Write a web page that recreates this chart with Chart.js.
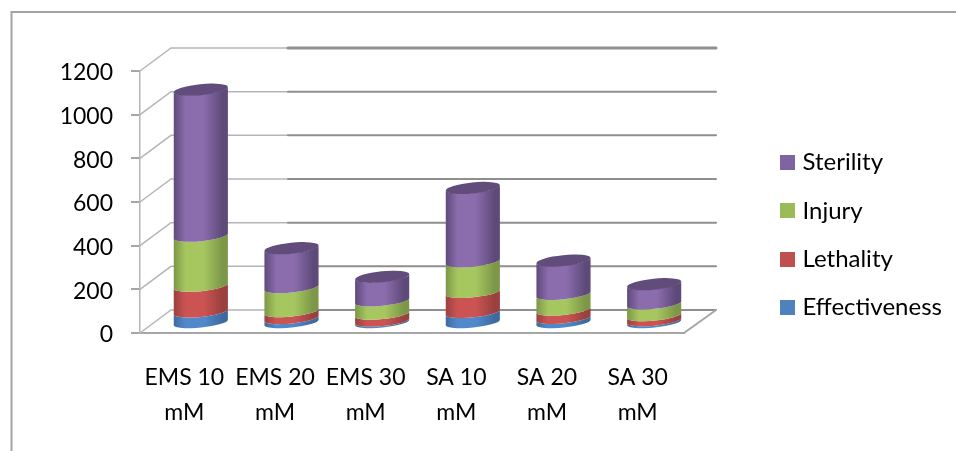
<!DOCTYPE html>
<html>
<head>
<meta charset="utf-8">
<title>Mutagen effects</title>
<script src="https://cdn.jsdelivr.net/npm/chart.js@4/dist/chart.umd.js"></script>
<style>
  html, body { margin: 0; padding: 0; background: #fff; }
  canvas { display: block; }
</style>
</head>
<body>
<canvas id="chart" width="956" height="451"></canvas>
<script>
const categories = [['EMS 10', 'mM'], ['EMS 20', 'mM'], ['EMS 30', 'mM'], ['SA 10', 'mM'], ['SA 20', 'mM'], ['SA 30', 'mM']];
const effectiveness = [53, 23, 11, 51, 24, 13];
const lethality = [118, 32, 32, 92, 38, 23];
const injury = [229, 110, 61, 140, 72, 54];
const sterility = [671, 180, 110, 338, 154, 90];

const seriesColors = ['#4F81BD', '#C0504D', '#9BBB59', '#8064A2'];
// Horizontal shading of each cylinder: edge, highlight, edge.
const sideShades = [
  ['#3F6A9E', '#5089CB', '#3F6A9E'],
  ['#9A403E', '#CB5453', '#9A403E'],
  ['#7C9747', '#A6C660', '#7C9747'],
  ['#5E4A79', '#8B6CAD', '#5E4A79']
];
const capColor = '#624C7C';

// Perspective offsets from the front plane of the box.
const DEPTH_X = 31, DEPTH_Y = -23;
const BAR_X = 15.5, BAR_Y = -9.5;
const TILT = -0.1, CAP_RY = 5;

function legendSwatch(color) {
  const c = document.createElement('canvas');
  c.width = 15; c.height = 15;
  const g = c.getContext('2d');
  g.fillStyle = color;
  g.fillRect(0, 0, 15, 15);
  return c;
}

const boxPlugin = {
  id: 'box3d',
  beforeDraw(chart) {
    // Outer chart border, open at the bottom and right.
    const { ctx } = chart;
    ctx.save();
    ctx.strokeStyle = '#a3a3a3';
    ctx.lineWidth = 2;
    ctx.beginPath();
    ctx.moveTo(11.5, 451);
    ctx.lineTo(11.5, 12);
    ctx.lineTo(956, 12);
    ctx.stroke();
    ctx.restore();
  },
  afterLayout(chart) {
    const lg = chart.legend;
    const w = lg.right - lg.left, h = lg.bottom - lg.top;
    lg.left = 784.5 - lg.options.labels.padding;
    lg.right = lg.left + w;
    lg.top = 150.5 - lg.options.labels.padding;
    lg.bottom = lg.top + h;
  },
  beforeDatasetsDraw(chart) {
    const { ctx, chartArea, scales } = chart;
    const yScale = scales.y;
    const left = chartArea.left, right = chartArea.right;
    ctx.save();
    ctx.lineCap = 'round';

    // Side wall and back wall grid lines for every tick.
    yScale.ticks.forEach((tick) => {
      const y = yScale.getPixelForValue(tick.value);
      const by = y + DEPTH_Y;
      ctx.strokeStyle = '#b5b5b5';
      ctx.lineWidth = 1.5;
      ctx.beginPath();
      ctx.moveTo(left, y);
      ctx.lineTo(left + DEPTH_X, by);
      ctx.lineTo(left + 148, by);
      ctx.stroke();
      ctx.strokeStyle = '#8f8f8f';
      ctx.lineWidth = tick.value === 1200 ? 3 : 2;
      ctx.beginPath();
      ctx.moveTo(left + 148, by);
      ctx.lineTo(right + DEPTH_X + 1, by);
      ctx.stroke();
    });

    // Right edge of the floor.
    const y0 = yScale.getPixelForValue(0);
    ctx.strokeStyle = '#a6a6a6';
    ctx.lineWidth = 2;
    ctx.beginPath();
    ctx.moveTo(right, y0);
    ctx.lineTo(right + DEPTH_X + 1, y0 + DEPTH_Y);
    ctx.stroke();
    ctx.restore();

    // Cylinders, stacked from the bottom segment up.
    const metas = chart.getSortedVisibleDatasetMetas().slice().sort((a, b) => a.index - b.index);
    metas.forEach((meta) => {
      meta.data.forEach((bar) => {
        const { x, y, base, width } = bar.getProps(['x', 'y', 'base', 'width']);
        const cx = x + BAR_X, rx = width / 2;
        const top = y + BAR_Y, bottom = base + BAR_Y;
        const shades = sideShades[meta.index];
        const grad = ctx.createLinearGradient(cx - rx, 0, cx + rx, 0);
        grad.addColorStop(0, shades[0]);
        grad.addColorStop(0.22, shades[1]);
        grad.addColorStop(0.55, shades[1]);
        grad.addColorStop(0.9, shades[2]);
        grad.addColorStop(1, shades[2]);
        ctx.save();
        ctx.fillStyle = grad;
        ctx.beginPath();
        ctx.ellipse(cx, bottom, rx, CAP_RY, TILT, 0, Math.PI, false);
        ctx.ellipse(cx, top, rx, CAP_RY, TILT, Math.PI, 0, true);
        ctx.closePath();
        ctx.fill();
        if (meta.index === metas.length - 1) {
          ctx.fillStyle = capColor;
          ctx.beginPath();
          ctx.ellipse(cx, top, rx, CAP_RY + 0.5, TILT, 0, Math.PI * 2);
          ctx.fill();
        }
        ctx.restore();
      });
    });
    return false;
  }
};

new Chart(document.getElementById('chart'), {
  type: 'bar',
  data: {
    labels: categories,
    datasets: [
      { label: 'Effectiveness', data: effectiveness, backgroundColor: seriesColors[0] },
      { label: 'Lethality', data: lethality, backgroundColor: seriesColors[1] },
      { label: 'Injury', data: injury, backgroundColor: seriesColors[2] },
      { label: 'Sterility', data: sterility, backgroundColor: seriesColors[3] }
    ]
  },
  plugins: [boxPlugin],
  options: {
    responsive: false,
    animation: false,
    layout: { padding: { left: 0, top: 71, right: 272, bottom: 0 } },
    datasets: { bar: { barPercentage: 0.6, categoryPercentage: 1 } },
    scales: {
      x: {
        stacked: true,
        grid: { display: false },
        border: { display: true, color: '#a6a6a6', width: 2 },
        afterFit(scale) { scale.height = 118; },
        ticks: { color: '#000', font: { family: 'Lato', size: 23, lineHeight: 1.52 }, padding: 19, labelOffset: -1, maxRotation: 0, autoSkip: false }
      },
      y: {
        stacked: true,
        min: 0,
        max: 1200,
        grid: { drawOnChartArea: false, color: '#a6a6a6', lineWidth: 2, tickLength: 9 },
        border: { display: true, color: '#b5b5b5', width: 1.5 },
        afterFit(scale) { scale.width = 140; },
        ticks: {
          stepSize: 200,
          color: '#000',
          font: { family: 'Lato', size: 23 },
          padding: 18,
          labelOffset: 2,
          callback(value) { return String(value); }
        }
      }
    },
    plugins: {
      title: { display: false },
      tooltip: { enabled: false },
      legend: {
        position: 'chartArea',
        align: 'start',
        reverse: true,
        labels: {
          color: '#000',
          font: { family: 'Lato', size: 24 },
          usePointStyle: true,
          pointStyleWidth: 6,
          boxHeight: 15,
          padding: 24.3,
          generateLabels(chart) {
            return Chart.defaults.plugins.legend.labels.generateLabels(chart).map((item) => {
              item.pointStyle = legendSwatch(seriesColors[item.datasetIndex]);
              return item;
            });
          }
        }
      }
    }
  }
});
</script>
</body>
</html>
